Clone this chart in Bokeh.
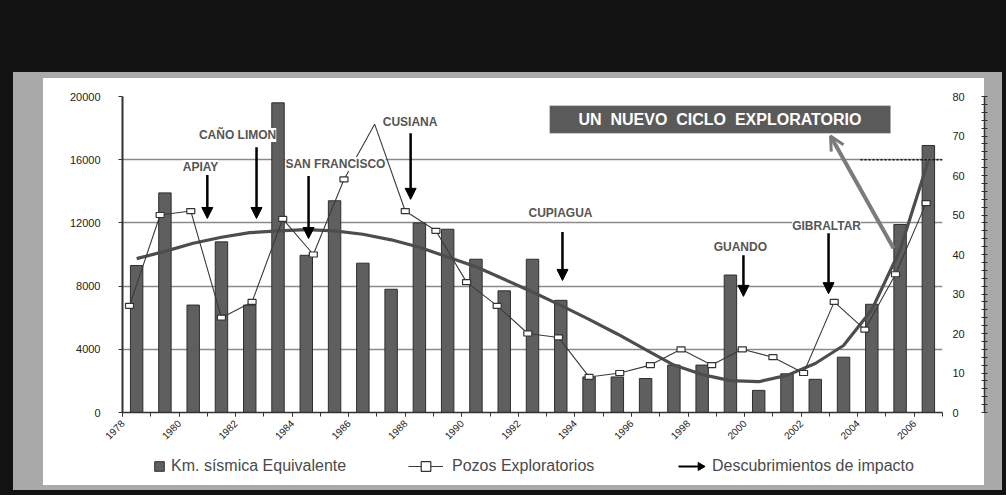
import math
from bokeh.plotting import figure
from bokeh.layouts import column
from bokeh.models import (Range1d, LinearAxis, FixedTicker, ColumnDataSource, Arrow, CDSView, IndexFilter,
                          NormalHead, OpenHead, LabelSet, Label, BoxAnnotation, Legend, LegendItem)
from bokeh.embed import file_html
from bokeh.resources import INLINE
from bokeh.core.properties import value

# ---------------- data ----------------
years = list(range(1978, 2007))
sismica_km = [9300, 13900, 6800, 10800, 6800, 19600, 9950, 13400, 9450, 7800,
              12000, 11600, 9700, 7700, 9700, 7100, 2250, 2250, 2150, 3000,
              3000, 8700, 1400, 2450, 2100, 3500, 6850, 11900, 16900]
tendencia_km = [9740, 10200, 10710, 11090, 11380, 11500, 11570, 11500, 11280, 10930,
                10460, 9840, 9220, 8430, 7630, 6780, 5890, 4970, 3980, 3000,
                2400, 2020, 1950, 2350, 3100, 4240, 6500, 10300, 15950]
pozos = [27, 50, 51, 24, 28, 49, 40, 59, 73, 51, 46, 33, 27, 20, 19, 9,
         10, 12, 16, 12, 16, 14, 10, 28, 21, 35, 53]
pozos_sin_marcador = [8]          # point whose marker is hidden in the original
label_years = list(range(1978, 2007, 2))
tick_years = list(range(1978, 2008))
left_ticks = [0, 4000, 8000, 12000, 16000, 20000]
right_ticks = [0, 10, 20, 30, 40, 50, 60, 70, 80]

descubrimientos = ["APIAY", "CAÑO LIMON", "SAN FRANCISCO", "CUSIANA", "CUPIAGUA", "GUANDO", "GIBRALTAR"]
desc_x = [1981.0, 1982.74, 1984.58, 1988.19, 1993.56, 1999.96, 2002.97]
desc_y_top = [15030, 16790, 14970, 17680, 11430, 9950, 11430]
desc_y_tip = [12280, 12280, 11010, 13490, 8360, 7350, 7520]
label_x = [1980.76, 1982.07, 1985.53, 1988.17, 1993.49, 1999.85, 2002.9]
label_y = [15540, 17570, 15730, 18390, 12620, 10460, 11790]

FONT = "Liberation Sans"

p = figure(width=1006, height=452, x_range=Range1d(1978, 2007), y_range=Range1d(0, 20000),
           output_backend="svg", toolbar_location=None,
           min_border_left=122, min_border_right=64, min_border_top=96, min_border_bottom=40,
           border_fill_color=None, background_fill_color=None, outline_line_color=None)
p.extra_y_ranges = {"pozos": Range1d(0, 80)}
p.extra_x_ranges = {"pozos_x": Range1d(-0.2285, 26.534)}

# grid
p.xgrid.visible = False
p.ygrid.ticker = FixedTicker(ticks=left_ticks)
p.ygrid.grid_line_color = "#8a8a8a"
p.ygrid.grid_line_width = 1.6

# left axis
ya = p.yaxis[0]
ya.ticker = FixedTicker(ticks=left_ticks)
ya.axis_line_color = "#333333"
ya.axis_line_width = 2
ya.major_tick_in = 0
ya.major_tick_out = 4
ya.major_tick_line_color = "#333333"
ya.minor_tick_line_color = None
ya.major_label_standoff = 18
ya.major_label_text_font = FONT
ya.major_label_text_font_size = "11px"
ya.major_label_text_color = "#222222"

# bottom axis
xa = p.xaxis[0]
xa.ticker = FixedTicker(ticks=label_years, minor_ticks=tick_years)
xa.major_label_orientation = math.pi / 4
xa.major_label_text_font = FONT
xa.major_label_text_font_size = "10px"
xa.major_label_text_color = "#222222"
xa.major_label_standoff = 5
xa.axis_line_color = "#333333"
xa.axis_line_width = 1.5
xa.major_tick_in = 0
xa.major_tick_out = 4
xa.minor_tick_in = 0
xa.minor_tick_out = 4
xa.major_tick_line_color = "#333333"
xa.minor_tick_line_color = "#333333"

# right axes: labels (inner) + line with small ticks (outer)
ra = LinearAxis(y_range_name="pozos", ticker=FixedTicker(ticks=right_ticks))
ra.axis_line_color = None
ra.major_tick_line_color = None
ra.minor_tick_line_color = None
ra.major_tick_out = 0
ra.major_tick_in = 0
ra.major_label_standoff = 10
ra.major_label_overrides = {t: str(t) + "\u2003\u2002" for t in right_ticks}
ra.major_label_text_font = FONT
ra.major_label_text_font_size = "11px"
ra.major_label_text_color = "#222222"
p.add_layout(ra, "right")

rb = LinearAxis(y_range_name="pozos",
                ticker=FixedTicker(ticks=[], minor_ticks=list(range(0, 81, 2))))
rb.axis_line_color = "#333333"
rb.axis_line_width = 1.5
rb.minor_tick_in = 3
rb.minor_tick_out = 3
rb.minor_tick_line_color = "#333333"
p.add_layout(rb, "right")

# bars
bar_x = [y + 0.5 for y in years]
p.vbar(x=bar_x, top=sismica_km, width=0.44, fill_color="#5f5f5f", line_color="#2e2e2e", line_width=1)

# trend
p.line(x=bar_x, y=tendencia_km, line_color="#4d4d4d", line_width=3.2)

# pozos exploratorios
pozos_src = ColumnDataSource(dict(i=list(range(len(pozos))), n=pozos))
p.line(x="i", y="n", source=pozos_src, x_range_name="pozos_x", y_range_name="pozos",
       line_color="#3a3a3a", line_width=1.1)
shown = [i for i in range(len(pozos)) if i not in pozos_sin_marcador]
p.rect(x="i", y="n", source=pozos_src, view=CDSView(filter=IndexFilter(shown)),
       width=8, height=5, width_units="screen", height_units="screen",
       x_range_name="pozos_x", y_range_name="pozos",
       fill_color="white", line_color="#333333", line_width=1.2)

# discovery arrows
dsrc = ColumnDataSource(dict(x=desc_x, y0=desc_y_top, y1=desc_y_tip))
p.add_layout(Arrow(source=dsrc, x_start="x", y_start="y0", x_end="x", y_end="y1",
                   line_color="black", line_width=2.5,
                   end=NormalHead(size=11, fill_color="black", line_color="black")))
lsrc = ColumnDataSource(dict(lx=label_x, ly=label_y, name=descubrimientos))
p.add_layout(LabelSet(x="lx", y="ly", text="name", source=lsrc, text_align="center",
                      text_baseline="middle", text_font=value(FONT), text_font_style="bold",
                      text_font_size="12px", text_color="#555555", background_fill_color="white"))

# dotted mark on 16000 line at the right
p.add_layout(Arrow(x_start=2004.1, y_start=16000, x_end=2007.2, y_end=16000, end=None,
                   line_color="#111111", line_width=1.5, line_dash="2 2"))

# "UN NUEVO CICLO EXPLORATORIO" box and pointer
p.add_layout(Arrow(x_start=2005.27, y_start=10394, x_end=2003.04, y_end=17505,
                   line_color="#7b7b7b", line_width=4,
                   end=OpenHead(size=14, line_color="#7b7b7b", line_width=3)))
p.add_layout(BoxAnnotation(left=1993.11, right=2005.16, bottom=17676, top=19410,
                           fill_color="#5a5a5a", fill_alpha=1, line_color="#9a9a9a", line_width=1))
p.add_layout(Label(x=1999.13, y=18543, text="UN\u00a0 NUEVO\u00a0 CICLO\u00a0 EXPLORATORIO",
                   text_align="center", text_baseline="middle", text_font=FONT,
                   text_font_style="bold", text_font_size="16px", text_color="white"))

# ---------------- legend strip (separate figure below, frame aligned 122..942) ----------------
lg = figure(width=1006, height=43, x_range=Range1d(122, 942), y_range=Range1d(0, 43),
            output_backend="svg", toolbar_location=None, x_axis_type=None, y_axis_type=None,
            min_border_left=122, min_border_right=64, min_border_top=0, min_border_bottom=0,
            border_fill_color=None, background_fill_color=None, outline_line_color=None)
lg.xgrid.visible = False
lg.ygrid.visible = False

# legend key renderers (their single point lies outside the visible strip)
off = dict(x=[-100], y=[-100])
sq_key = lg.scatter(x=off["x"], y=off["y"], marker="square", size=10,
                    fill_color="#5f5f5f", line_color="#2e2e2e")
pl_key = lg.line(x=off["x"], y=off["y"], line_color="#3a3a3a", line_width=1.1)
wsq_key = lg.scatter(x=off["x"], y=off["y"], marker="square", size=8, fill_color="white",
                     line_color="#333333", line_width=1.2)
arr_key = lg.line(x=off["x"], y=off["y"], line_color="black", line_width=2)
# arrow head of the legend key
lg.scatter(x=[700], y=[29], marker="triangle", angle=-math.pi / 2, size=8,
           fill_color="black", line_color="black")


def mk_legend(label, rends, x, gw, standoff):
    return Legend(items=[LegendItem(label=label, renderers=rends)], location=(x - 122, 17),
                  orientation="horizontal", glyph_width=gw, glyph_height=24, label_height=20,
                  label_standoff=standoff, padding=0, margin=0,
                  border_line_color=None, background_fill_alpha=0,
                  label_text_font=FONT, label_text_font_size="16px", label_text_color="#4a4a4a")


lg.add_layout(mk_legend("Km. sísmica Equivalente", [sq_key], 147, 24, -3))
lg.add_layout(mk_legend("Pozos Exploratorios", [pl_key, wsq_key], 408, 35, 9))
lg.add_layout(mk_legend("Descubrimientos de impacto", [arr_key], 678, 25, 9))

page = column(p, lg, spacing=0, styles={
    "background-color": "#121212",
    "background-image": "linear-gradient(#ffffff, #ffffff), linear-gradient(#a9a9a9, #a9a9a9)",
    "background-size": "941px 407px, 989px 418px",
    "background-position": "43px 78px, 13px 72px",
    "background-repeat": "no-repeat",
})

open("out.html", "w").write(file_html(page, INLINE))
